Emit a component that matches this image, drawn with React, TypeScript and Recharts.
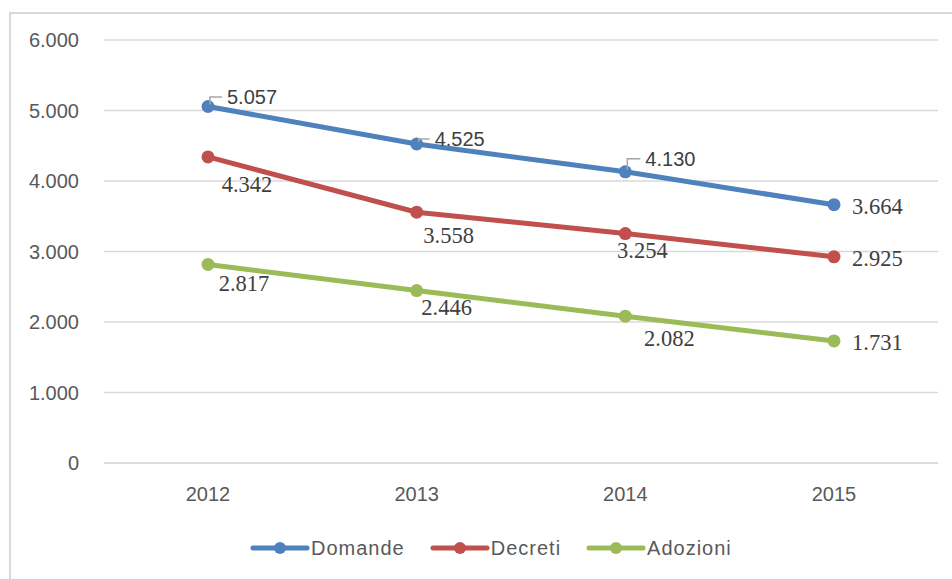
import { LineChart, Line, XAxis, YAxis, CartesianGrid, Legend, LabelList } from "recharts";

const years = ["2012", "2013", "2014", "2015"];
const domande = [5057, 4525, 4130, 3664];
const decreti = [4342, 3558, 3254, 2925];
const adozioni = [2817, 2446, 2082, 1731];
const yTicks = [0, 1000, 2000, 3000, 4000, 5000, 6000];

const data = years.map((year, i) => ({
  year,
  domande: domande[i],
  decreti: decreti[i],
  adozioni: adozioni[i],
}));

const series = [
  { key: "domande", name: "Domande", color: "#4f81bd" },
  { key: "decreti", name: "Decreti", color: "#c0504d" },
  { key: "adozioni", name: "Adozioni", color: "#9bbb59" },
];

// label placement per point (Excel-ish hand tweaks)
type Place = { dx: number; dy: number; anchor: "start" | "middle"; leader?: boolean; serif?: boolean };
const placements: Record<string, Place[]> = {
  domande: [
    { dx: 19, dy: -9.5, anchor: "start", leader: true },
    { dx: 18, dy: -5, anchor: "start", leader: true },
    { dx: 20, dy: -13, anchor: "start", leader: true },
    { dx: 18, dy: 2, anchor: "start", serif: true },
  ],
  decreti: [
    { dx: 39, dy: 28, anchor: "middle", serif: true },
    { dx: 32, dy: 23, anchor: "middle", serif: true },
    { dx: 17, dy: 17, anchor: "middle", serif: true },
    { dx: 18, dy: 2, anchor: "start", serif: true },
  ],
  adozioni: [
    { dx: 36, dy: 19, anchor: "middle", serif: true },
    { dx: 30, dy: 17, anchor: "middle", serif: true },
    { dx: 44, dy: 22, anchor: "middle", serif: true },
    { dx: 18, dy: 2, anchor: "start", serif: true },
  ],
};

const fmt = (v: number) => String(v).replace(/\B(?=(\d{3})+(?!\d))/g, ".");

const SANS = "'Liberation Sans', Arial, sans-serif";
const SERIF = "'Liberation Serif', 'Times New Roman', serif";

function makeLabel(key: string) {
  return (props: any) => {
    const { x, y, value, index } = props;
    const p = placements[key][index];
    const lx = x + p.dx;
    const ly = y + p.dy;
    return (
      <g>
        {p.leader && (
          <polyline
            points={`${x + 2},${y - 2} ${x + 2},${ly} ${lx - 5},${ly}`}
            fill="none"
            stroke="#a6a6a6"
            strokeWidth={1.5}
          />
        )}
        <text
          x={lx}
          y={ly}
          textAnchor={p.anchor}
          dominantBaseline="central"
          fontFamily={p.serif ? SERIF : SANS}
          fontSize={p.serif ? 22.5 : 20}
          fill="#404040"
        >
          {fmt(value)}
        </text>
      </g>
    );
  };
}

function LegendContent() {
  return (
    <div style={{ display: "flex", alignItems: "center", height: 24, fontFamily: SANS, fontSize: 20, color: "#595959" }}>
      {series.map((s) => (
        <div key={s.key} style={{ display: "flex", alignItems: "center", marginRight: 25 }}>
          <svg width={60} height={14}>
            <line x1={3} y1={7} x2={57} y2={7} stroke={s.color} strokeWidth={5} strokeLinecap="round" />
            <circle cx={30} cy={7} r={6} fill={s.color} />
          </svg>
          <span style={{ letterSpacing: 1, marginLeft: 1 }}>{s.name}</span>
        </div>
      ))}
    </div>
  );
}

export default function App() {
  return (
    <div style={{ position: "absolute", left: 0, top: 0, width: 952, height: 579, background: "#fff", overflow: "hidden" }}>
      <div
        style={{
          position: "absolute",
          left: 9,
          top: 12,
          width: 960,
          height: 600,
          borderLeft: "2px solid #d9d9d9",
          borderTop: "2px solid #d9d9d9",
        }}
      />
      <LineChart width={952} height={579} data={data} margin={{ top: 40, right: 14, left: 0, bottom: 62 }}>
        <CartesianGrid vertical={false} stroke="#d9d9d9" strokeWidth={1.5} />
        <XAxis
          dataKey="year"
          padding={{ left: 104, right: 104 }}
          tickLine={false}
          tickSize={0}
          tickMargin={24}
          height={30}
          axisLine={{ stroke: "#d9d9d9", strokeWidth: 1.5 }}
          tick={{ fill: "#595959", fontSize: 20, fontFamily: SANS }}
        />
        <YAxis
          width={104}
          domain={[0, 6000]}
          ticks={yTicks}
          tickFormatter={fmt}
          axisLine={false}
          tickLine={false}
          tickSize={0}
          tickMargin={25}
          tick={{ fill: "#595959", fontSize: 20, fontFamily: SANS }}
        />
        <Legend
          verticalAlign="bottom"
          content={() => <LegendContent />}
          wrapperStyle={{ left: 250, top: 536, bottom: "auto", width: "auto" }}
        />
        {series.map((s) => (
          <Line
            key={s.key}
            dataKey={s.key}
            name={s.name}
            stroke={s.color}
            strokeWidth={5}
            dot={{ r: 6.5, fill: s.color, stroke: s.color, strokeWidth: 0 }}
            activeDot={false}
            isAnimationActive={false}
          >
            <LabelList dataKey={s.key} content={makeLabel(s.key)} />
          </Line>
        ))}
      </LineChart>
    </div>
  );
}
